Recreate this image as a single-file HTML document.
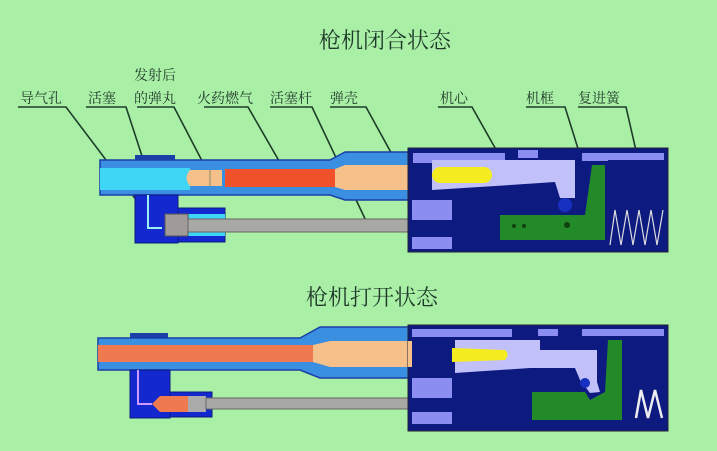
<!DOCTYPE html>
<html><head><meta charset="utf-8"><style>
html,body{margin:0;padding:0;background:#a9f0a6;}
svg{display:block}
text{font-family:"Liberation Serif","Noto Serif CJK SC",serif;fill:#1f3a2a}
</style></head><body>
<svg width="717" height="451" viewBox="0 0 717 451" xmlns="http://www.w3.org/2000/svg">
<rect width="717" height="451" fill="#a9f0a6"/>
<text x="385" y="48" font-size="22" text-anchor="middle">枪机闭合状态</text>
<text x="372" y="305" font-size="22" text-anchor="middle">枪机打开状态</text>
<g font-size="14">
<text x="20" y="103">导气孔</text>
<text x="88" y="103">活塞</text>
<text x="134" y="80">发射后</text>
<text x="134" y="103">的弹丸</text>
<text x="197" y="103">火药燃气</text>
<text x="270" y="103">活塞杆</text>
<text x="330" y="103">弹壳</text>
<text x="440" y="103">机心</text>
<text x="526" y="103">机框</text>
<text x="578" y="103">复进簧</text>
</g>
<g stroke="#1e3d2a" stroke-width="1.6" fill="none">
<polyline points="18,107 66,107 140,205"/>
<polyline points="86,107 126,107 158,205"/>
<polyline points="137,107 174,107 212,180"/>
<polyline points="204,107 248,107 290,180"/>
<polyline points="270,107 312,107 368,225"/>
<polyline points="330,107 366,107 405,178"/>
<polyline points="438,107 472,107 512,178"/>
<polyline points="526,107 565,107 580,155"/>
<polyline points="578,107 626,107 637,155"/>
</g>
<g>
<rect x="135" y="155" width="40" height="6" fill="#1b3fa8"/>
<path d="M100,160 L330,160 L345,152 L412,152 L412,200 L345,200 L330,195 L100,195 Z" fill="#3a8fe0" stroke="#1b3fa8" stroke-width="1.5"/>
<rect x="100" y="168" width="90" height="22" fill="#3fd6f5"/>
<path d="M190,170 Q183,178 190,186 L222,186 L222,170 Z" fill="#f5c08a"/>
<line x1="210" y1="170" x2="210" y2="186" stroke="#886" />
<rect x="225" y="169" width="110" height="18" fill="#f0502a"/>
<path d="M335,169 L345,165 L425,165 L425,190 L345,190 L335,187Z" fill="#f5c08a"/>
<rect x="135" y="195" width="43" height="48" fill="#1428d0" stroke="#0c1a80"/>
<rect x="178" y="208" width="47" height="34" fill="#1428d0" stroke="#0c1a80"/>
<rect x="178" y="214" width="47" height="22" fill="#3fd6f5"/>
<polyline points="148,195 148,228 162,228" stroke="#9ee" stroke-width="2" fill="none"/>
<rect x="165" y="214" width="23" height="22" fill="#a09a98" stroke="#555"/>
<rect x="188" y="219" width="320" height="13" fill="#a8a8a4" stroke="#666" stroke-width="1"/>
<rect x="408" y="148" width="260" height="104" fill="#0d1a80" stroke="#223" />
<rect x="413" y="153" width="92" height="10" fill="#8b8ef0"/>
<rect x="518" y="150" width="20" height="8" fill="#8b8ef0"/>
<rect x="582" y="153" width="82" height="8" fill="#8b8ef0"/>
<rect x="412" y="200" width="40" height="20" fill="#8b8ef0"/>
<rect x="412" y="237" width="40" height="12" fill="#8b8ef0"/>
<path d="M432,160 L575,160 L575,198 L560,198 L555,182 L510,185 L432,190 Z" fill="#c2c0f8"/>
<rect x="432" y="167" width="60" height="16" rx="8" fill="#f5ec20"/>
<circle cx="565" cy="205" r="7" fill="#1830c0"/>
<path d="M500,215 L585,215 L592,165 L605,165 L605,240 L500,240 Z" fill="#238a2a"/>
<circle cx="514" cy="226" r="2" fill="#104010"/><circle cx="524" cy="226" r="2" fill="#104010"/><circle cx="567" cy="225" r="3" fill="#104010"/>
<rect x="608" y="160" width="56" height="88" fill="#0d1a80"/>
<polyline points="610,245 615,210 621,245 627,210 633,245 639,210 645,245 651,210 657,245 663,210" stroke="#ddd" stroke-width="1.2" fill="none"/>
</g>
<g>
<rect x="130" y="333" width="38" height="6" fill="#1b3fa8"/>
<path d="M98,338 L300,338 L320,327 L412,327 L412,378 L320,378 L300,370 L98,370 Z" fill="#3a8fe0" stroke="#1b3fa8" stroke-width="1.5"/>
<rect x="98" y="345" width="215" height="17" fill="#f07a50"/>
<path d="M313,345 L330,341 L410,341 L410,367 L330,367 L313,362Z" fill="#f5c08a"/>
<rect x="130" y="370" width="40" height="48" fill="#1428d0" stroke="#0c1a80"/>
<rect x="170" y="392" width="42" height="25" fill="#1428d0" stroke="#0c1a80"/>
<polyline points="138,370 138,404 152,404" stroke="#c9f" stroke-width="2" fill="none"/>
<path d="M152,404 L160,396 L188,396 L188,412 L160,412 Z" fill="#f07a50"/>
<rect x="188" y="396" width="18" height="16" fill="#aaa"/>
<rect x="206" y="398" width="270" height="11" fill="#a8a8a4" stroke="#666"/>
<rect x="408" y="325" width="260" height="106" fill="#0d1a80" stroke="#223"/>
<rect x="412" y="329" width="100" height="8" fill="#8b8ef0"/>
<rect x="538" y="329" width="20" height="7" fill="#8b8ef0"/>
<rect x="582" y="329" width="82" height="7" fill="#8b8ef0"/>
<rect x="412" y="378" width="40" height="20" fill="#8b8ef0"/>
<rect x="412" y="412" width="40" height="12" fill="#8b8ef0"/>
<rect x="408" y="341" width="4" height="26" fill="#f5c08a"/>
<path d="M455,340 L540,340 L540,350 L597,350 L597,382 L600,392 L590,393 L580,380 L575,368 L530,368 L455,373 Z" fill="#c2c0f8"/>
<path d="M452,348 L505,350 Q510,354 505,360 L452,362 Z" fill="#f5ec20"/>
<circle cx="585" cy="383" r="5" fill="#1830c0"/>
<path d="M532,392 L585,392 L590,400 L605,392 L608,340 L622,340 L622,420 L532,420 Z" fill="#238a2a"/>
<rect x="624" y="336" width="40" height="91" fill="#0d1a80"/>
<polyline points="636,418 641,390 648,418 655,390 662,418" stroke="#eee" stroke-width="2.5" fill="none"/>
</g>
</svg>
</body></html>
